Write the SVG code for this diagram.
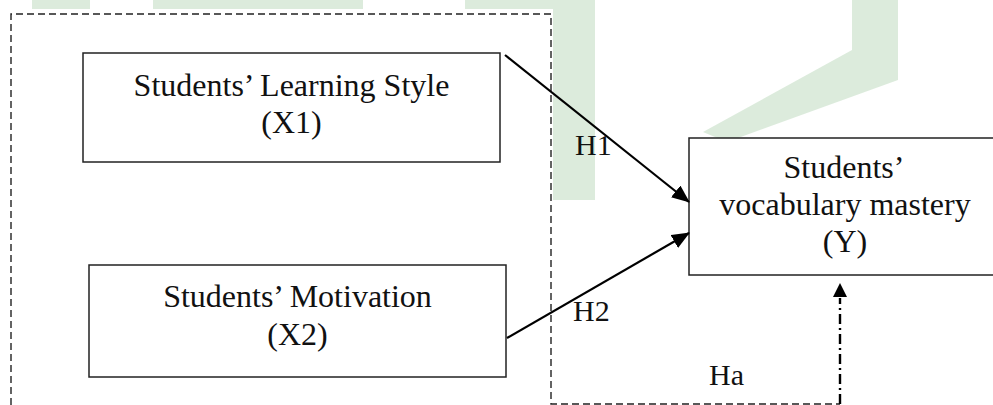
<svg xmlns="http://www.w3.org/2000/svg" width="993" height="405" viewBox="0 0 993 405">
<defs>
<style>
.box{fill:#ffffff;stroke:#222222;stroke-width:1.5}
.t{font-family:"Liberation Serif","Times New Roman",serif;font-size:32px;fill:#111111;text-anchor:middle}
.lbl{font-family:"Liberation Serif","Times New Roman",serif;font-size:30px;fill:#111111}
.wm{fill:#d3e6d3;opacity:0.8}
.edge{fill:none;stroke:#000000;stroke-width:2.2}
.frame{fill:none;stroke:#222222;stroke-width:1.4;stroke-dasharray:7 4}
</style>
<marker id="arr" markerWidth="18" markerHeight="15" refX="17" refY="7.5" orient="auto" markerUnits="userSpaceOnUse">
<path d="M0,0 L18,7.5 L0,15 Z" fill="#000000"/>
</marker>
</defs>
<rect width="993" height="405" fill="#ffffff"/>
<g id="watermark">
<rect class="wm" x="553" y="0" width="42" height="200"/>
<polygon class="wm" points="852,0 898,0 898,80 727,142 703,132 852,50"/>
<rect class="wm" x="32" y="0" width="58" height="9" opacity="0.4"/>
<rect class="wm" x="153" y="0" width="210" height="9" opacity="0.4"/>
<rect class="wm" x="465" y="0" width="88" height="9" opacity="0.4"/>
</g>
<g id="frame">
<polyline class="frame" points="11,405 11,14 551,14 551,404 840,404"/>
</g>
<g id="x1">
<rect class="box" x="83" y="53" width="417" height="109"/>
<text class="t" x="291.5" y="96">Students’ Learning Style</text>
<text class="t" x="291.5" y="133">(X1)</text>
</g>
<g id="x2">
<rect class="box" x="89" y="265" width="417" height="112"/>
<text class="t" x="297.5" y="307">Students’ Motivation</text>
<text class="t" x="297.5" y="345">(X2)</text>
</g>
<g id="y">
<rect class="box" x="689" y="138" width="320" height="137"/>
<text class="t" x="844" y="178">Students’</text>
<text class="t" x="845" y="215">vocabulary mastery</text>
<text class="t" x="845" y="252">(Y)</text>
</g>
<g id="connectors">
<line class="edge" x1="505" y1="55" x2="689" y2="202" marker-end="url(#arr)"/>
<line class="edge" x1="507" y1="338" x2="689" y2="233" marker-end="url(#arr)"/>
<line x1="840" y1="404" x2="840" y2="298" stroke="#000000" stroke-width="2.4" stroke-dasharray="10 4 2 4"/>
<path d="M840,283 L847,297 L833,297 Z" fill="#000000"/>
<text class="lbl" x="575" y="155">H1</text>
<text class="lbl" x="573" y="321">H2</text>
<text class="lbl" x="709" y="385">Ha</text>
</g>
</svg>
